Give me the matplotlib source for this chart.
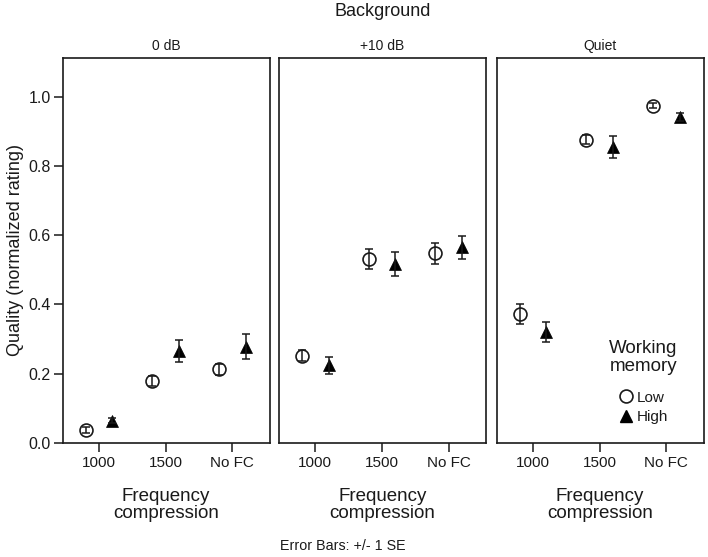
import numpy as np
import matplotlib
matplotlib.use('Agg')
import matplotlib.pyplot as plt
from matplotlib.lines import Line2D

plt.rcParams['font.family'] = ['Liberation Sans', 'DejaVu Sans']

backgrounds = ['0 dB', '+10 dB', 'Quiet']
fc_labels = ['1000', '1500', 'No FC']

# means and standard errors, one row per background
low_mean = [[0.037, 0.178, 0.212],
            [0.251, 0.531, 0.547],
            [0.372, 0.875, 0.974]]
low_se = [[0.008, 0.015, 0.015],
          [0.016, 0.030, 0.030],
          [0.030, 0.013, 0.007]]
high_mean = [[0.064, 0.266, 0.277],
             [0.224, 0.516, 0.565],
             [0.321, 0.855, 0.942]]
high_se = [[0.008, 0.032, 0.036],
           [0.025, 0.034, 0.033],
           [0.029, 0.032, 0.011]]

ink = '#1a1a1a'
fig = plt.figure(figsize=(7.08, 5.57), dpi=100)

lefts = [62.7, 279.0, 496.7]
W, H = 708.0, 557.0
bottom_px, top_px = 442.7, 58.3
pw = 206.8

x = np.arange(3)
dodge = 0.2
err_kw = dict(fmt='none', ecolor=ink, elinewidth=1.1, capsize=2.8, capthick=1.1, zorder=4)

axes = []
for i, bg in enumerate(backgrounds):
    ax = fig.add_axes([lefts[i] / W, (H - bottom_px) / H, pw / W, (bottom_px - top_px) / H])
    axes.append(ax)
    # markers first, error bars on top so they show through the open circles
    ax.plot(x - dodge, low_mean[i], 'o', ms=9.3, mfc='white', mec=ink, mew=1.2, zorder=3)
    ax.plot(x + dodge, high_mean[i], '^', ms=8.5, mfc='black', mec='black', mew=0.5, zorder=3)
    ax.errorbar(x - dodge, low_mean[i], yerr=low_se[i], **err_kw)
    ax.errorbar(x + dodge, high_mean[i], yerr=high_se[i], **err_kw)
    ax.set_xlim(-0.545, 2.56)
    ax.set_ylim(0, 1.111)
    ax.set_xticks(x)
    ax.set_xticklabels(fc_labels)
    ax.tick_params(axis='x', length=6.5, width=1.1, color=ink, labelsize=11, labelcolor=ink, pad=3)
    if i == 0:
        ax.set_yticks(np.arange(0, 1.01, 0.2))
        ax.set_yticklabels(['%.1f' % v for v in np.arange(0, 1.01, 0.2)])
        ax.tick_params(axis='y', length=6.5, width=1.1, color=ink, labelsize=11.5, labelcolor=ink, pad=2)
    else:
        ax.set_yticks([])
    for s in ax.spines.values():
        s.set_linewidth(1.2)
        s.set_color(ink)
    ax.set_title(bg, fontsize=10, color=ink, pad=6)
    ax.set_xlabel('Frequency\ncompression', fontsize=13.5, color=ink, labelpad=13, linespacing=1.0)

axes[0].set_ylabel('Quality (normalized rating)', fontsize=13, color=ink, labelpad=3)

fig.text(0.5 * (lefts[1] + lefts[1] + pw) / W, 1 - 12 / H, 'Background', ha='center', va='center',
         fontsize=13, color=ink)
fig.text(343 / W, 1 - 546 / H, 'Error Bars: +/- 1 SE', ha='center', va='center', fontsize=10.3, color=ink)

# legend: title placed as text, entries as a legend below it
ax3 = axes[2]
ax3.text(0.71, 0.222, 'Working\nmemory', transform=ax3.transAxes, ha='center', va='center',
         fontsize=13.5, color=ink, linespacing=1.1)
handles = [Line2D([], [], ls='none', marker='o', ms=9.3, mfc='white', mec=ink, mew=1.2),
           Line2D([], [], ls='none', marker='^', ms=8.5, mfc='black', mec='black')]
leg = ax3.legend(handles, ['Low', 'High'], loc='center',
                 bbox_to_anchor=(0.71, 0.092), frameon=False, fontsize=11,
                 handlelength=0.9, handletextpad=0.3, labelspacing=0.35, borderpad=0)
for t in leg.get_texts():
    t.set_color(ink)

fig.savefig('out.png', dpi=100)
